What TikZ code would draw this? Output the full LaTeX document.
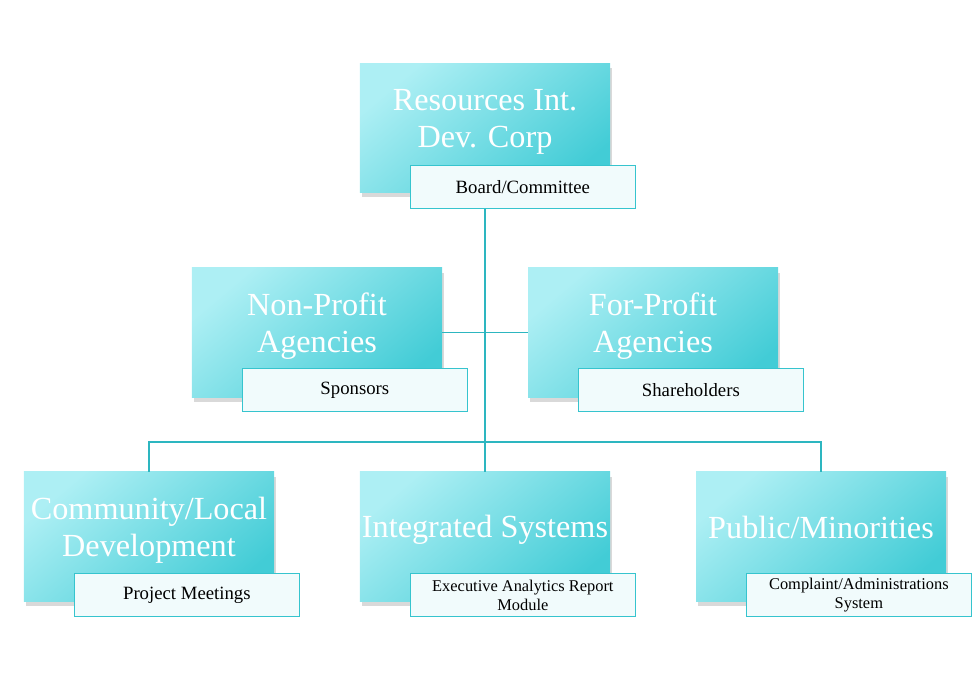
\documentclass[tikz,border=0pt]{standalone}
\usepackage{fontspec}
\setmainfont{Liberation Serif}
\usetikzlibrary{positioning, shadows, calc}
\definecolor{tealLight}{HTML}{ADEFF4}
\definecolor{tealDark}{HTML}{42CCD6}
\definecolor{subLine}{HTML}{36C4CE}
\definecolor{subFill}{HTML}{F1FBFC}
\definecolor{linkColor}{HTML}{2DB6C0}

\begin{document}
\begin{tikzpicture}[
  x=0.03cm, y=-0.03cm,
  unitbox/.style={rectangle, minimum width=7.5cm, minimum height=3.87cm, inner sep=0pt,
    top color=tealLight, bottom color=tealDark, shading angle=40,
    drop shadow={shadow xshift=2pt, shadow yshift=-4pt, opacity=0.3}},
  title/.style={text=white, align=center, font=\fontsize{27.5}{31.5}\selectfont},
  subbox/.style={rectangle, draw=subLine, line width=1pt, fill=subFill, anchor=north west,
    minimum width=6.75cm, minimum height=1.29cm, align=center, inner sep=1pt,
    font=\fontsize{16}{17}\selectfont},
  twoline/.style={font=\fontsize{14}{16.5}\selectfont},
  link/.style={draw=linkColor, line width=1.5pt}
]
\useasboundingbox (0,0) rectangle (980,680);

% units
\node (top) [unitbox] at (485,128) {};
\node (nonprofit) [unitbox] at (317,332.5) {};
\node (forprofit) [unitbox] at (653,332.5) {};
\node (community) [unitbox] at (149,536.5) {};
\node (integ) [unitbox] at (485,536.5) {};
\node (public) [unitbox] at (821,536.5) {};

\node (topname) [title] at ($(top.center)+(0,-6)$) {Resources Int.\\Dev. Corp};
\node (nonprofitname) [title] at ($(nonprofit.center)+(0,-6)$) {Non-Profit\\Agencies};
\node (forprofitname) [title] at ($(forprofit.center)+(0,-6)$) {For-Profit\\Agencies};
\node (communityname) [title] at ($(community.center)+(0,-6)$) {Community/Local\\Development};
\node (integname) [title] at ($(integ.center)+(0,-7)$) {Integrated Systems};
\node (publicname) [title] at ($(public.center)+(0,-9)$) {Public/Minorities};

% sub boxes
\node (board) [subbox] at ($(top.south west)+(50,-28)$) {Board/Committee};
\node (sponsors) [subbox] at ($(nonprofit.south west)+(50,-29)$) {Sponsors};
\node (holders) [subbox] at ($(forprofit.south west)+(50,-29)$) {Shareholders};
\node (meetings) [subbox] at ($(community.south west)+(50,-28)$) {Project Meetings};
\node (report) [subbox, twoline] at ($(integ.south west)+(50,-28)$) {Executive Analytics Report\\Module};
\node (complaint) [subbox, twoline] at ($(public.south west)+(50,-28)$) {Complaint/Administrations\\System};

% connectors
\coordinate (bus) at ($(integ.north)+(0,-30)$);
\draw [link] (top.center |- board.south) -- (integ.north);
\draw [link] (nonprofit.east) -- (forprofit.west);
\draw [link] (community.north) |- (bus) -| (public.north);
\end{tikzpicture}
\end{document}
